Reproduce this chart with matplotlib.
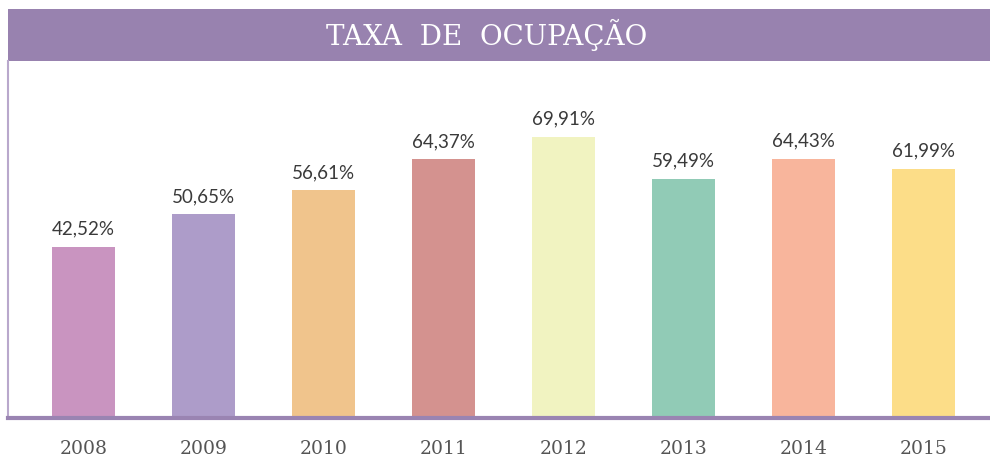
import matplotlib
matplotlib.use("Agg")
import matplotlib.pyplot as plt
from matplotlib.patches import Rectangle

title = "TAXA DE OCUPAÇÃO"
years = ["2008", "2009", "2010", "2011", "2012", "2013", "2014", "2015"]
values = [42.52, 50.65, 56.61, 64.37, 69.91, 59.49, 64.43, 61.99]
labels = ["42,52%", "50,65%", "56,61%", "64,37%", "69,91%", "59,49%", "64,43%", "61,99%"]
colors = ["#c994c0", "#ad9cc9", "#f0c48c", "#d4928f", "#f1f3c1", "#91cbb6", "#f8b59c", "#fcdd88"]

W, H = 990, 462
fig = plt.figure(figsize=(W / 100, H / 100), dpi=100)
fig.patch.set_facecolor("white")

# title band
band = fig.add_axes([8 / W, (H - 61) / H, (W - 8) / W, 52 / H])
band.set_axis_off()
band.add_patch(Rectangle((0, 0), 1, 1, transform=band.transAxes, color="#9882af"))
band.text(0.487, 0.5, "  ".join(title.split(" ")), transform=band.transAxes, ha="center",
          va="center", color="white", fontsize=20, family="DejaVu Serif",
          fontweight="normal")

ax = fig.add_axes([8 / W, (H - 418) / H, (W - 8) / W, (418 - 61) / H])
x = list(range(len(years)))
ax.bar(x, values, width=0.525, color=colors, zorder=2)
ax.set_xlim(-0.629, 7.554)
ax.set_ylim(0, 88.8)
for xi, v, lab in zip(x, values, labels):
    ax.text(xi, v + 2.3, lab, ha="center", va="bottom", fontsize=13.5,
            color="#3a3a3a", family="Lato")
ax.set_yticks([])
ax.set_xticks(x)
ax.set_xticklabels(years, fontsize=13.5, color="#555555", family="DejaVu Serif")
ax.tick_params(axis="x", length=0, pad=16)
for s in ["top", "right"]:
    ax.spines[s].set_visible(False)
ax.spines["left"].set_color("#b9a8cc")
ax.spines["left"].set_linewidth(1.5)
ax.spines["bottom"].set_color("#9a84b2")
ax.spines["bottom"].set_linewidth(3)
ax.spines["bottom"].set_zorder(3)

fig.savefig("out.png", dpi=100, facecolor="white")
